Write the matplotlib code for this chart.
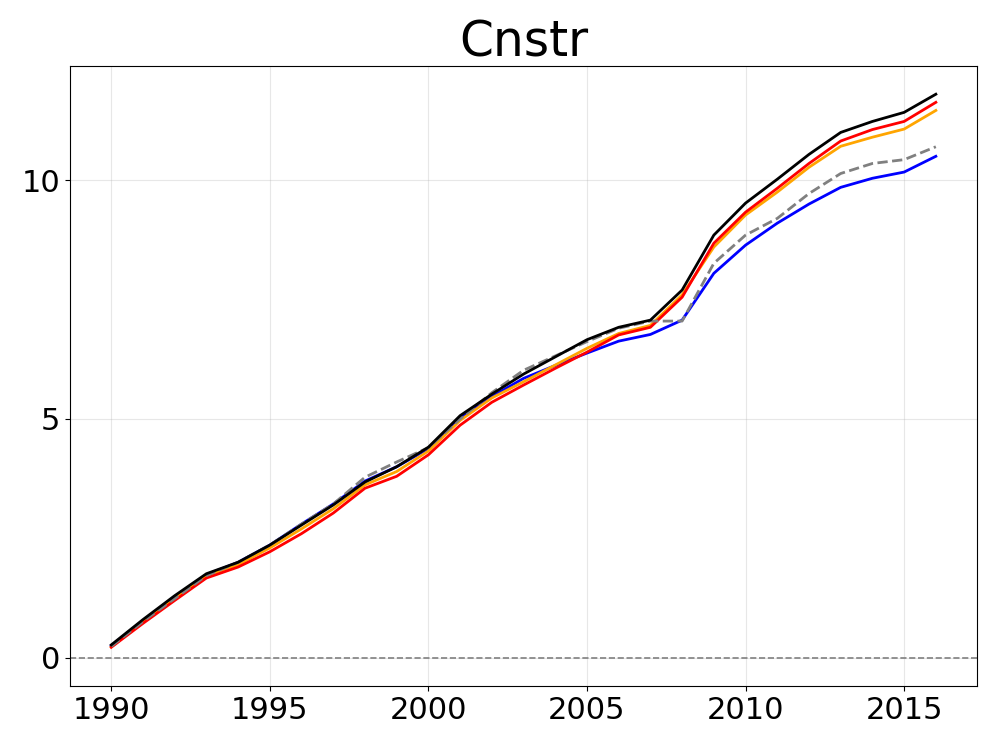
import matplotlib
matplotlib.use('Agg')
import matplotlib.pyplot as plt

#Years on the x axis
years = list(range(1990, 2017))

#Series values
blue_vals = [0.25, 0.78, 1.27, 1.74, 2.0, 2.36, 2.8, 3.22, 3.7, 4.0, 4.38, 5.02, 5.47, 5.85, 6.12, 6.38,
             6.63, 6.77, 7.07, 8.05, 8.64, 9.1, 9.5, 9.85, 10.04, 10.17, 10.5]
orange_vals = [0.23, 0.75, 1.24, 1.72, 1.95, 2.3, 2.7, 3.12, 3.62, 3.9, 4.33, 4.97, 5.44, 5.78, 6.13, 6.48,
               6.79, 6.96, 7.6, 8.6, 9.27, 9.75, 10.27, 10.71, 10.9, 11.07, 11.46]
red_vals = [0.22, 0.72, 1.2, 1.67, 1.9, 2.22, 2.6, 3.03, 3.55, 3.8, 4.25, 4.87, 5.35, 5.71, 6.06, 6.4,
            6.76, 6.92, 7.55, 8.68, 9.33, 9.83, 10.35, 10.82, 11.06, 11.23, 11.63]
gray_vals = [0.24, 0.76, 1.24, 1.72, 2.0, 2.36, 2.8, 3.22, 3.78, 4.1, 4.4, 5.0, 5.55, 6.02, 6.32, 6.62,
             6.9, 7.05, 7.05, 8.26, 8.85, 9.2, 9.72, 10.14, 10.35, 10.43, 10.7]
black_vals = [0.27, 0.8, 1.3, 1.76, 2.0, 2.36, 2.78, 3.2, 3.68, 4.0, 4.41, 5.07, 5.52, 5.94, 6.3, 6.66,
              6.92, 7.07, 7.7, 8.85, 9.52, 10.02, 10.54, 11.0, 11.23, 11.42, 11.8]

fig = plt.figure(figsize=(9.96, 7.47), dpi=100)
ax = fig.add_axes([0.0703, 0.0817, 0.9107, 0.8299])

ax.axhline(0, color='gray', linestyle='--', linewidth=1.2)
ax.plot(years, blue_vals, color='blue', linewidth=2)
ax.plot(years, orange_vals, color='orange', linewidth=2)
ax.plot(years, red_vals, color='red', linewidth=2)
ax.plot(years, gray_vals, color='gray', linestyle='--', linewidth=2)
ax.plot(years, black_vals, color='black', linewidth=2)

ax.grid(True, alpha=0.3)
ax.set_xticks([1990, 1995, 2000, 2005, 2010, 2015])
ax.set_yticks([0, 5, 10])
ax.tick_params(labelsize=22)
ax.set_title('Cnstr', fontsize=35)

fig.savefig('out.png')
